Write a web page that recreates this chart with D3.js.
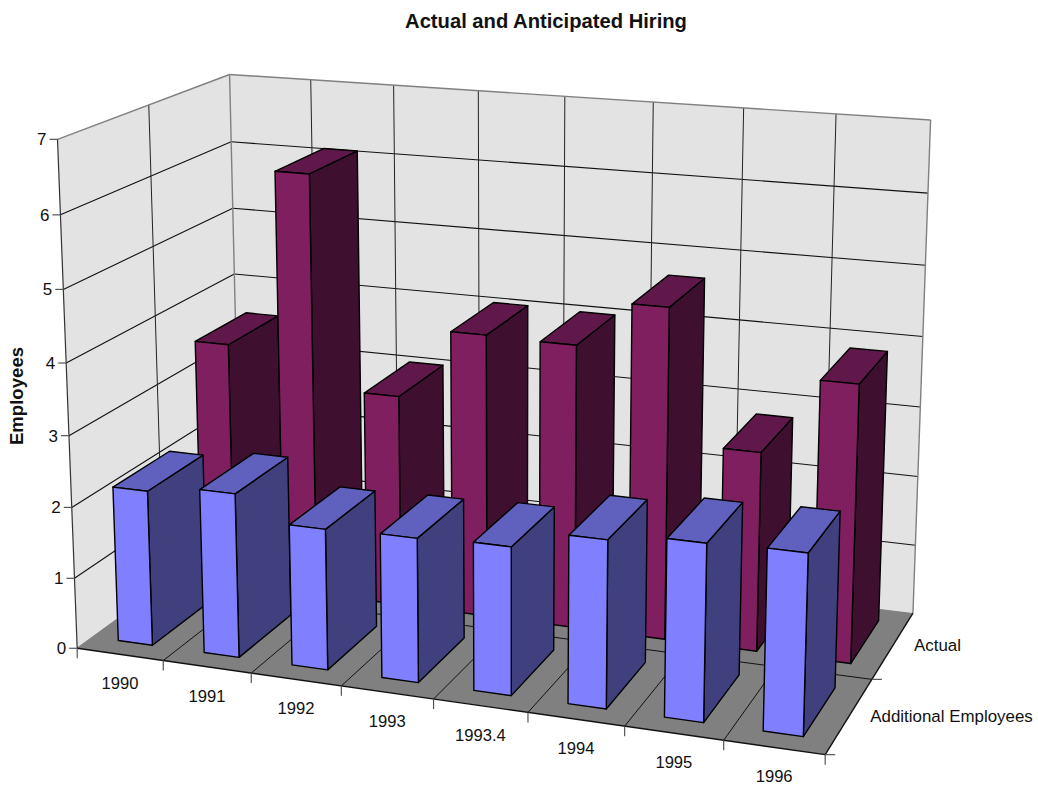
<!DOCTYPE html>
<html>
<head>
<meta charset="utf-8">
<script src="https://cdn.jsdelivr.net/npm/d3@7/dist/d3.min.js"></script>
<style>
html,body{margin:0;padding:0;background:#fff}
svg{display:block}
text{font-family:"Liberation Sans",Arial,sans-serif;fill:#111}
</style>
</head>
<body>
<svg id="chart" width="1038" height="788"></svg>
<script>
const categories = ["1990","1991","1992","1993","1993.4","1994","1995","1996"];
const seriesNames = ["Additional Employees","Actual"];
const additional = [2.19,2.3,1.96,1.99,2.03,2.28,2.39,2.42];
const actual = [3.55,6.1,3.05,4.05,4.03,4.67,2.8,3.87];
const valueTicks = [0,1,2,3,4,5,6,7];

// Calibration of the box: unit coordinates [x, height, depth] and their place on the page.
const calibration = [
  [0,0,0, 77.3,648.3],[1,0,0, 825,755],[1,0,1, 913.3,612.7],
  [0,1,0, 57.5,139],[0,1,1, 229.7,74.7],[1,1,1, 930.7,120],
  [0,1,.5, 149,105],[0,6/7,1, 230,141.7],[0,5/7,1, 232.7,208.3],[0,4/7,1, 235,274],
  [0,6/7,0, 60.7,214.7],[1,6/7,1, 927.7,193.3],[7/8,1,1, 836.3,114],
  [1/8,0,0, 163.3,661],[2/8,0,0, 251,672.7],[1,0,.5, 871.7,679.3]
];

// Least-squares fit of the eleven projective camera coefficients.
function fitCamera(rows){
  const A=[],b=[];
  rows.forEach(([x,y,z,u,v])=>{
    A.push([x,y,z,1,0,0,0,0,-u*x,-u*y,-u*z]); b.push(u);
    A.push([0,0,0,0,x,y,z,1,-v*x,-v*y,-v*z]); b.push(v);
  });
  const n=11, M=d3.range(n).map(i=>d3.range(n+1).map(j=>
    d3.sum(A,(r,k)=>r[i]*(j<n?r[j]:b[k]))));
  for(let c=0;c<n;c++){
    let p=c; for(let r=c+1;r<n;r++) if(Math.abs(M[r][c])>Math.abs(M[p][c])) p=r;
    [M[c],M[p]]=[M[p],M[c]];
    for(let r=0;r<n;r++) if(r!==c){
      const f=M[r][c]/M[c][c];
      for(let j=c;j<=n;j++) M[r][j]-=f*M[c][j];
    }
  }
  return M.map((r,i)=>r[n]/r[i]);
}
const cam=fitCamera(calibration);
function project(x,y,z){
  const w=cam[8]*x+cam[9]*y+cam[10]*z+1;
  return [(cam[0]*x+cam[1]*y+cam[2]*z+cam[3])/w,(cam[4]*x+cam[5]*y+cam[6]*z+cam[7])/w];
}

const xScale=d3.scaleBand().domain(categories).range([0,1]).paddingInner(.6).paddingOuter(.3);
const zScale=d3.scaleBand().domain(seriesNames).range([0,1]).paddingInner(.346).paddingOuter(.173);
const xEdge=d3.scaleLinear().domain([0,categories.length]).range([0,1]);
const zEdge=d3.scaleLinear().domain([0,seriesNames.length]).range([0,1]);
const yScale=d3.scaleLinear().domain([0,7]).range([0,1]);

const svg=d3.select("#chart");
const poly=pts=>"M"+pts.map(p=>project(...p).map(n=>n.toFixed(2)).join(",")).join("L")+"Z";
const line=(a,b,stroke,w)=>{
  const [x1,y1]=project(...a),[x2,y2]=project(...b);
  return svg.append("line").attr("x1",x1).attr("y1",y1).attr("x2",x2).attr("y2",y2)
    .attr("stroke",stroke).attr("stroke-width",w);
};

// Walls and floor
svg.append("path").attr("d",poly([[0,0,0],[0,1,0],[0,1,1],[0,0,1]])).attr("fill","#e3e3e3");
svg.append("path").attr("d",poly([[0,0,1],[0,1,1],[1,1,1],[1,0,1]])).attr("fill","#e3e3e3");
svg.append("path").attr("d",poly([[0,0,0],[1,0,0],[1,0,1],[0,0,1]])).attr("fill","#808080");

// Gridlines
valueTicks.slice(1,-1).forEach(v=>{
  const y=yScale(v);
  line([0,y,0],[0,y,1],"#111",1.1);
  line([0,y,1],[1,y,1],"#111",1.1);
});
d3.range(1,categories.length).forEach(i=>{
  const x=xEdge(i);
  line([x,0,1],[x,1,1],"#222",1);
  line([x,0,0],[x,0,1],"#111",1);
});
line([0,0,.5],[0,1,.5],"#222",1);
line([0,0,.5],[1,0,.5],"#111",1);

// Box outline
[[[0,1,0],[0,1,1]],[[0,1,1],[1,1,1]],[[0,0,1],[0,1,1]],[[1,0,1],[1,1,1]],[[0,0,0],[0,0,1]]]
  .forEach(([a,b])=>line(a,b,"#808080",1.4));
line([0,0,0],[0,1,0],"#333",1.2);
line([0,0,0],[1,0,0],"#111",1.4);
line([1,0,0],[1,0,1],"#111",1.4);

// Bars, far row first and left to right so nearer boxes overlap
const styles={
  "Actual":{front:"#7f1f5f",side:"#3f0f30",top:"#5f1849"},
  "Additional Employees":{front:"#8080ff",side:"#40407f",top:"#6060bf"}
};
const rows=[["Actual",actual],["Additional Employees",additional]];
rows.forEach(([name,values])=>{
  const g=svg.append("g").attr("class","series");
  const z0=zScale(name), z1=z0+zScale.bandwidth(), s=styles[name];
  categories.forEach((c,i)=>{
    const x0=xScale(c), x1=x0+xScale.bandwidth(), h=yScale(values[i]);
    const face=(pts,fill)=>g.append("path").attr("d",poly(pts)).attr("fill",fill)
      .attr("stroke","#000").attr("stroke-width",1.4).attr("stroke-linejoin","round");
    face([[x1,0,z0],[x1,h,z0],[x1,h,z1],[x1,0,z1]],s.side);
    face([[x0,h,z0],[x1,h,z0],[x1,h,z1],[x0,h,z1]],s.top);
    face([[x0,0,z0],[x1,0,z0],[x1,h,z0],[x0,h,z0]],s.front);
  });
});

// Ticks and labels
const tickStroke="#555";
valueTicks.forEach(v=>{
  const [x,y]=project(0,yScale(v),0);
  svg.append("line").attr("x1",x-8).attr("x2",x).attr("y1",y).attr("y2",y).attr("stroke",tickStroke).attr("stroke-width",1.2);
  svg.append("text").attr("x",x-11).attr("y",y+6).attr("text-anchor","end").attr("font-size",17).text(v);
});
d3.range(0,categories.length+1).forEach(i=>{
  const [x,y]=project(xEdge(i),0,0);
  svg.append("line").attr("x1",x).attr("x2",x).attr("y1",y).attr("y2",y+10).attr("stroke",tickStroke).attr("stroke-width",1.2);
});
categories.forEach((c,i)=>{
  const [x,y]=project(xEdge(i+.5),0,0);
  svg.append("text").attr("x",x).attr("y",y+35).attr("text-anchor","middle").attr("font-size",16.6).text(c);
});
d3.range(0,seriesNames.length).forEach(i=>{
  const [x,y]=project(1,0,zEdge(i));
  svg.append("line").attr("x1",x).attr("x2",x+10).attr("y1",y).attr("y2",y).attr("stroke",tickStroke).attr("stroke-width",1.2);
});
seriesNames.forEach((n,i)=>{
  const [x,y]=project(1,0,zEdge(i+.5));
  svg.append("text").attr("x",x+21).attr("y",y+6).attr("font-size",16.9).text(n);
});

svg.append("text").attr("x",546).attr("y",28).attr("text-anchor","middle")
  .attr("font-size",20.2).attr("font-weight","bold").text("Actual and Anticipated Hiring");
svg.append("text").attr("transform","translate(23,396) rotate(-90)").attr("text-anchor","middle")
  .attr("font-size",18.6).attr("font-weight","bold").text("Employees");
</script>
</body>
</html>
